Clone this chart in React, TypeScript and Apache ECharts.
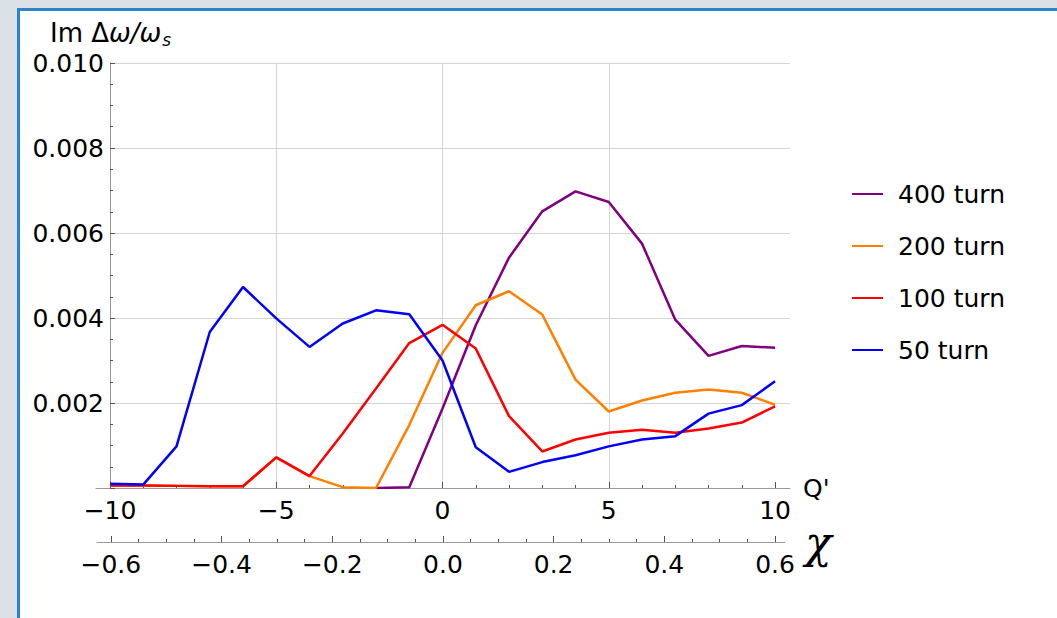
import React, { useEffect, useRef } from "react";
import * as echarts from "echarts";

// Q' values (chromaticity) at which the growth rates were computed
const qPrime = [-10, -9, -8, -7, -6, -5, -4, -3, -2, -1, 0, 1, 2, 3, 4, 5, 6, 7, 8, 9, 10];

// Im Δω/ωs for each wake length
const turn400 = [null, null, null, null, null, null, null, null, 0, 0.00002, 0.00187, 0.00383, 0.00542, 0.00651, 0.00698, 0.00673, 0.00575, 0.00396, 0.00311, 0.00334, 0.0033];
const turn200 = [0.00006, 0.00006, 0.00005, 0.00004, 0.00004, 0.00072, 0.00028, 0.00002, 0, 0.00148, 0.00318, 0.0043, 0.00463, 0.00408, 0.00255, 0.0018, 0.00206, 0.00224, 0.00232, 0.00224, 0.00196];
const turn100 = [0.00006, 0.00006, 0.00005, 0.00004, 0.00004, 0.00072, 0.00028, 0.00128, 0.00234, 0.00341, 0.00384, 0.00328, 0.00169, 0.00086, 0.00114, 0.0013, 0.00137, 0.0013, 0.0014, 0.00154, 0.00192];
const turn50 = [0.0001, 0.00008, 0.00098, 0.00367, 0.00473, 0.00399, 0.00332, 0.00387, 0.00418, 0.00409, 0.003, 0.00096, 0.00038, 0.00061, 0.00077, 0.00098, 0.00114, 0.00122, 0.00175, 0.00195, 0.00251];

const seriesNames = ["400 turn", "200 turn", "100 turn", "50 turn"];
const seriesColors = ["#800080", "#ff8000", "#ff0000", "#0000ff"];

// tick values
const qMajorTicks = [-10, -5, 0, 5, 10];
const qMinorTicks = [-9, -8, -7, -6, -4, -3, -2, -1, 1, 2, 3, 4, 6, 7, 8, 9];
const chiMajorTicks = [-0.6, -0.4, -0.2, 0, 0.2, 0.4, 0.6];
const chiMinorTicks = [-0.55, -0.5, -0.45, -0.35, -0.3, -0.25, -0.15, -0.1, -0.05, 0.05, 0.1, 0.15, 0.25, 0.3, 0.35, 0.45, 0.5, 0.55];

const FONT = "DejaVu Sans";
const TICK_COLOR = "#555";
const AXIS_COLOR = "#999";
const GRID_COLOR = "#d4d4d4";

const minus = (s: string) => s.replace("-", "\u2212");

export default function App() {
  const ref = useRef<HTMLDivElement>(null);
  useEffect(() => {
    if (!ref.current) return;
    const chart = echarts.init(ref.current, null, { renderer: "svg" });
    const all = [turn400, turn200, turn100, turn50];
    const labelStyle = { fontSize: 25, fontFamily: FONT, color: "#000", fontWeight: "normal" as const };
    chart.setOption({
      animation: false,
      title: {
        left: 45,
        top: 12,
        text: "{a|Im Δ}{b|ω/ω}{c|s}",
        textStyle: {
          fontWeight: "normal",
          rich: {
            a: { fontSize: 26, fontFamily: FONT, fontWeight: "normal", color: "#000" },
            b: { fontSize: 26, fontFamily: FONT, fontWeight: "normal", fontStyle: "italic", color: "#000" },
            c: { fontSize: 17, fontFamily: FONT, fontWeight: "normal", fontStyle: "italic", color: "#000", padding: [14, 0, 0, 1] },
          },
        },
      },
      legend: {
        orient: "vertical",
        left: 852,
        top: 181,
        padding: 0,
        data: seriesNames,
        icon: "rect",
        itemWidth: 31,
        itemHeight: 2,
        itemGap: 26,
        textStyle: { ...labelStyle, lineHeight: 26, padding: [0, 0, 0, 10] },
      },
      grid: [
        { left: 110, top: 63, width: 680, height: 425 },
        { left: 96, top: 63, width: 694, height: 425 },
        { left: 97, top: 520, width: 688, height: 22 },
      ],
      xAxis: [
        {
          type: "value",
          gridIndex: 0,
          min: -10,
          max: 10.45,
          interval: 5,
          position: "bottom",
          axisLine: { show: false, onZero: false },
          axisTick: { show: true, inside: true, length: 6, customValues: qMajorTicks, lineStyle: { color: TICK_COLOR } },
          axisLabel: { ...labelStyle, margin: 10, customValues: qMajorTicks, formatter: (v: number) => minus(String(v)) },
          splitLine: { show: true, showMinLine: false, showMaxLine: false, lineStyle: { color: GRID_COLOR } },
        },
        {
          type: "value",
          gridIndex: 0,
          min: -10,
          max: 10.45,
          position: "bottom",
          axisLine: { show: false, onZero: false },
          axisTick: { show: true, inside: true, length: 3, customValues: qMinorTicks, lineStyle: { color: TICK_COLOR } },
          axisLabel: { show: false },
          splitLine: { show: false },
        },
        {
          type: "value",
          gridIndex: 1,
          min: 0,
          max: 1,
          position: "bottom",
          axisLine: { show: true, onZero: false, lineStyle: { color: AXIS_COLOR, width: 1 } },
          axisTick: { show: false },
          axisLabel: { show: false },
          splitLine: { show: false },
          name: "Q'",
          nameLocation: "end",
          nameGap: 13,
          nameTextStyle: { ...labelStyle },
        },
        {
          type: "value",
          gridIndex: 2,
          min: -0.625,
          max: 0.618,
          position: "bottom",
          axisLine: { show: true, onZero: false, lineStyle: { color: AXIS_COLOR, width: 1 } },
          axisTick: { show: true, inside: true, length: 6, customValues: chiMajorTicks, lineStyle: { color: TICK_COLOR } },
          axisLabel: { ...labelStyle, margin: 10, customValues: chiMajorTicks, formatter: (v: number) => minus(v.toFixed(1)) },
          splitLine: { show: false },
          name: "χ",
          nameLocation: "end",
          nameGap: 20,
          nameTextStyle: { fontSize: 44, fontFamily: "DejaVu Serif", fontStyle: "italic", fontWeight: "normal", color: "#000", padding: [14, 0, 0, 0] },
        },
        {
          type: "value",
          gridIndex: 2,
          min: -0.625,
          max: 0.618,
          position: "bottom",
          axisLine: { show: false, onZero: false },
          axisTick: { show: true, inside: true, length: 3, customValues: chiMinorTicks, lineStyle: { color: TICK_COLOR } },
          axisLabel: { show: false },
          splitLine: { show: false },
        },
      ],
      yAxis: [
        {
          type: "value",
          gridIndex: 0,
          min: 0,
          max: 0.01,
          interval: 0.002,
          axisLine: { show: true, onZero: false, lineStyle: { color: AXIS_COLOR, width: 1 } },
          axisTick: { show: true, inside: true, length: 5, lineStyle: { color: TICK_COLOR } },
          minorTick: { show: true, splitNumber: 4, length: 3, lineStyle: { color: TICK_COLOR } },
          axisLabel: { ...labelStyle, margin: 6, formatter: (v: number) => (v === 0 ? "" : v.toFixed(3)) },
          splitLine: { show: true, showMinLine: false, lineStyle: { color: GRID_COLOR } },
        },
        { type: "value", gridIndex: 1, show: false, axisLine: { onZero: false } },
        { type: "value", gridIndex: 2, show: false, axisLine: { onZero: false } },
      ],
      series: seriesNames.map((name, i) => ({
        name,
        type: "line",
        xAxisIndex: 0,
        yAxisIndex: 0,
        data: qPrime.map((q, j) => [q, all[i][j]]),
        showSymbol: false,
        symbol: "none",
        connectNulls: false,
        color: seriesColors[i],
        lineStyle: { width: 2.5, color: seriesColors[i] },
      })),
    });
    return () => chart.dispose();
  }, []);

  return (
    <div style={{ position: "fixed", left: 0, top: 0, width: 1057, height: 618, background: "#dbe1e7", overflow: "hidden" }}>
      <div
        style={{
          position: "absolute",
          left: 17,
          top: 8,
          width: 1100,
          height: 700,
          background: "#fff",
          borderLeft: "3px solid #2a86c9",
          borderTop: "3px solid #2a86c9",
        }}
      />
      <div ref={ref} style={{ position: "absolute", left: 0, top: 0, width: 1057, height: 618 }} />
    </div>
  );
}
